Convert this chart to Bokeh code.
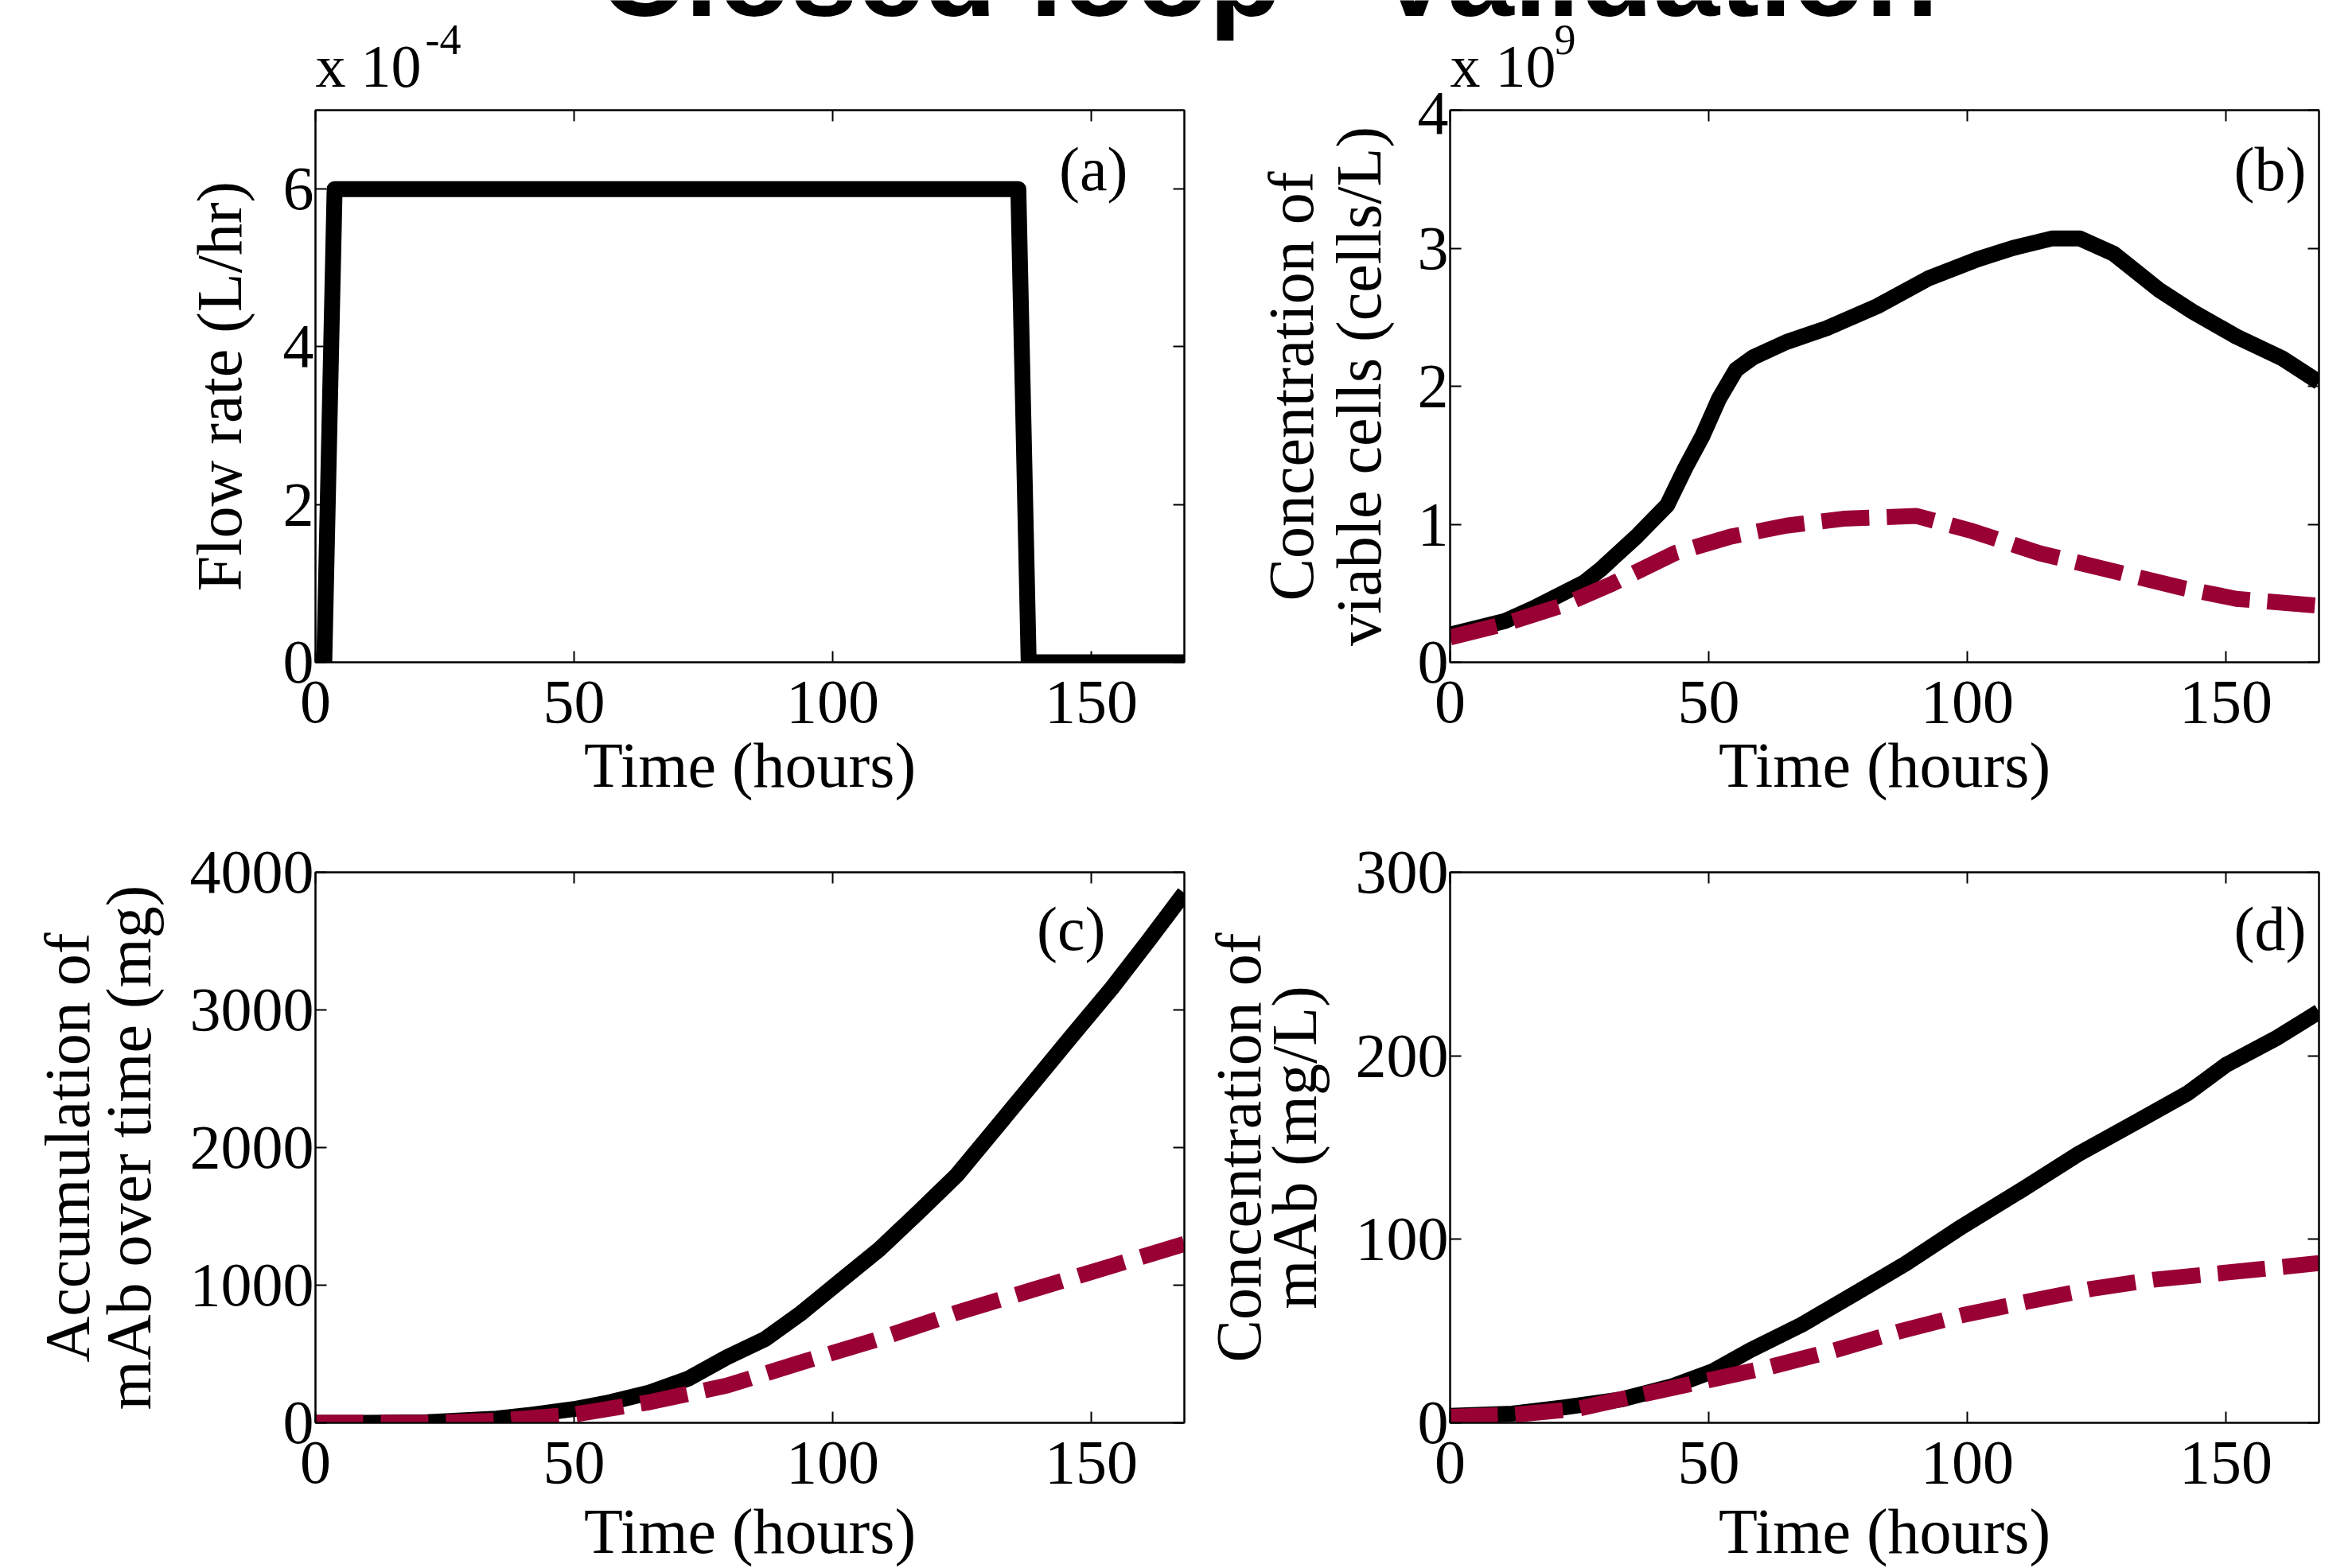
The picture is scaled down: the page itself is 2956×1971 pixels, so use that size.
from bokeh.plotting import figure
from bokeh.layouts import column, row
from bokeh.models import FixedTicker, LinearAxis, Label, Range1d
from bokeh.core.properties import value
from bokeh.embed import file_html
from bokeh.resources import INLINE

# ---------------- data ----------------
x_ticks = [0, 50, 100, 150]
t_max = 168

# (a) flow rate, x 1e-4 L/hr
flow_t = [0, 1.7, 3.7, 135.9, 137.9, 168]
flow_v = [0, 0, 6, 6, 0, 0]

# (b) viable cells, x 1e9 cells/L
cells_t_black = [0, 10.7, 16, 26, 29, 36, 42, 45.5, 48.8, 52, 55.3, 58.6, 65, 72.8, 82.6,
                 92.4, 102, 108.7, 116.3, 121.8, 128.3, 137, 143.6, 152, 161, 168]
cells_black = [0.20, 0.30, 0.39, 0.58, 0.67, 0.91, 1.14, 1.41, 1.64, 1.91, 2.12, 2.21, 2.32,
               2.42, 2.58, 2.78, 2.92, 3.00, 3.07, 3.07, 2.96, 2.70, 2.54, 2.36, 2.20, 2.03]
cells_t_red = [0, 10.7, 21.6, 31.4, 43.4, 54.2, 65, 76, 90.2, 101, 114, 130.5, 141.4, 152, 168]
cells_red = [0.18, 0.28, 0.41, 0.57, 0.79, 0.91, 0.99, 1.04, 1.06, 0.95, 0.79, 0.64, 0.54, 0.46, 0.41]

# (c) accumulated mAb, mg
acc_t_black = [0, 10, 21.5, 35, 42, 50, 57, 64.6, 72, 79.5, 87, 94, 101.8, 109, 116.6, 124,
               131.5, 139, 146, 154, 161, 168]
acc_black = [0, 0, 5, 30, 60, 100, 150, 220, 320, 475, 610, 800, 1040, 1260, 1530, 1800,
             2140, 2480, 2800, 3160, 3500, 3850]
acc_t_red = [0, 21.5, 35, 50, 64.6, 79.5, 94, 109, 124, 139, 154, 168]
acc_red = [0, 0, 15, 60, 150, 270, 440, 610, 800, 970, 1140, 1300]

# (d) mAb concentration, mg/L
conc_t_black = [0, 12, 22, 33, 43, 50.7, 58, 68, 78, 88, 99, 110, 121.5, 132.7, 142.6, 150, 160, 168]
conc_black = [3.8, 5, 8.4, 12.7, 20, 28, 39.5, 53.5, 70, 86.6, 107, 126, 146.5, 164, 179.6, 195, 210, 224]
conc_t_red = [0, 12, 24.6, 37, 49.6, 62, 74.3, 86.7, 99, 111.5, 124, 136, 148.8, 161, 168]
conc_red = [3.3, 4.3, 7.6, 15.3, 23, 30.6, 39.5, 49.7, 58.6, 66, 73, 78, 81.5, 85, 87]

title_text = "Closed loop \u201cValidation\u201d"
exp_base = ["x 10", "x 10"]
exp_power = ["-4", "9"]

# ---------------- styling ----------------
SERIF = "Liberation Serif"
TICK_FS = "78px"
LABEL_FS = "80px"
RED = "#990033"
LW = 20
FRAME_W = 1092
ROW_W = 2934
STRIP_H = 116


def style_axis(ax):
    ax.major_tick_in = 14
    ax.major_tick_out = 0
    ax.minor_tick_in = 0
    ax.minor_tick_out = 0
    ax.axis_line_color = "black"
    ax.axis_line_width = 2
    ax.major_tick_line_color = "black"
    ax.major_tick_line_width = 2
    ax.major_label_text_font = SERIF
    ax.major_label_text_font_size = TICK_FS
    ax.major_label_text_color = "black"
    ax.axis_label_text_font = SERIF
    ax.axis_label_text_font_size = LABEL_FS
    ax.axis_label_text_font_style = "normal"
    ax.axis_label_text_color = "black"


def hide_labels(ax):
    ax.major_label_text_font_size = "1px"
    ax.major_label_text_color = None
    ax.major_label_standoff = 0


def make_fig(ymax, yticks, ylabel_lines, frame_h, b_top, b_bottom, b_left,
             lab_standoff, tick_standoff_x, lab_standoff_x, outer_standoff=-6, b_right=20):
    p = figure(frame_width=FRAME_W, frame_height=frame_h,
               x_range=Range1d(0, t_max), y_range=Range1d(0, ymax),
               output_backend="svg", toolbar_location=None,
               min_border_top=b_top, min_border_bottom=b_bottom,
               min_border_left=b_left, min_border_right=b_right,
               x_axis_label="Time (hours)", y_axis_label=ylabel_lines[-1])
    p.add_layout(LinearAxis(), "right")
    p.add_layout(LinearAxis(), "above")
    p.xgrid.visible = False
    p.ygrid.visible = False
    p.outline_line_color = "black"
    p.outline_line_width = 2
    p.background_fill_color = "white"
    p.border_fill_color = "white"
    for ax in p.axis:
        style_axis(ax)
    for ax in list(p.below) + list(p.above):
        ax.ticker = FixedTicker(ticks=x_ticks)
    for ax in list(p.left) + list(p.right):
        ax.ticker = FixedTicker(ticks=yticks)
    for ax in list(p.right) + list(p.above):
        hide_labels(ax)
    bottom_ax = p.below[0]
    left_ax = p.left[0]
    bottom_ax.major_label_standoff = tick_standoff_x
    bottom_ax.axis_label_standoff = lab_standoff_x
    left_ax.major_label_standoff = 2
    left_ax.axis_label_standoff = lab_standoff
    if len(ylabel_lines) > 1:
        # first line of a two-line y label, on an outer axis with no ticks
        outer = LinearAxis(axis_label=ylabel_lines[0], ticker=FixedTicker(ticks=[]))
        style_axis(outer)
        hide_labels(outer)
        outer.axis_line_color = None
        outer.major_tick_line_color = None
        outer.minor_tick_line_color = None
        outer.axis_label_standoff = outer_standoff
        p.add_layout(outer, "left")
    return p


def ypx(p, px):
    """data y at px pixels above the frame top"""
    r = p.y_range
    return r.end + px * (r.end - r.start) / p.frame_height


def xpx(px):
    return px * t_max / FRAME_W


def panel_label(p, text, right_px, below_top_px):
    p.add_layout(Label(x=xpx(right_px), y=ypx(p, -below_top_px), text=text,
                       text_align="right", text_baseline="alphabetic",
                       text_font=SERIF, text_font_size="78px", text_color="black"))


# ---- top strip: title and the axis multipliers (pixel coordinates) ----
strip = figure(width=ROW_W, height=STRIP_H, x_range=Range1d(0, ROW_W), y_range=Range1d(0, STRIP_H),
               output_backend="svg", toolbar_location=None, x_axis_type=None, y_axis_type=None,
               min_border=0, min_border_left=0, min_border_right=0, min_border_top=0,
               min_border_bottom=0)
strip.xgrid.visible = False
strip.ygrid.visible = False
strip.outline_line_color = None
strip.text(x=[752], y=[STRIP_H - 27], text=[title_text], text_font=value("Liberation Sans"),
           text_font_style="bold", text_font_size="150px", text_color="black",
           text_align="left", text_baseline="alphabetic", y_offset=-60)
strip.text(x=[396, 1822], y=[1, 1], text=exp_base, text_font=value(SERIF),
           text_font_size="76px", text_color="black", text_align="left",
           text_baseline="alphabetic", y_offset=-33)
strip.text(x=[534, 1953], y=[STRIP_H - 70, STRIP_H - 70], text=exp_power, text_font=value(SERIF),
           text_font_size="54px", text_color="black", text_align="left",
           text_baseline="alphabetic", y_offset=-21)

TOP_B = 138 - STRIP_H

# (a)
pa = make_fig(7, [0, 2, 4, 6], ["Flow rate (L/hr)"], 694, TOP_B, 200, 396, 33, 24, 7)
pa.line(flow_t, flow_v, line_color="black", line_width=LW, line_join="round")
panel_label(pa, "(a)", 1021, 74)

# (b)
pb = make_fig(4, [0, 1, 2, 3, 4], ["Concentration of", "viable cells (cells/L)"], 694, TOP_B, 200,
              314, 27, 24, 7)
pb.line(cells_t_black, cells_black, line_color="black", line_width=LW, line_join="round")
pb.line(cells_t_red, cells_red, line_color=RED, line_width=LW, line_dash="60 22", line_cap="butt")
panel_label(pb, "(b)", 1076, 74)

# (c)
pc = make_fig(4000, [0, 1000, 2000, 3000, 4000], ["Accumulation of", "mAb over time (mg)"], 692, 64,
              170, 396, 30, 24, 14, outer_standoff=-14)
pc.line(acc_t_black, acc_black, line_color="black", line_width=LW, line_join="round")
pc.line(acc_t_red, acc_red, line_color=RED, line_width=LW, line_dash="60 22", line_cap="butt")
panel_label(pc, "(c)", 993, 71)

# (d)
pd_ = make_fig(300, [0, 100, 200, 300], ["Concentration of", "mAb (mg/L)"], 692, 64, 170, 314,
               30, 24, 14, outer_standoff=-21)
pd_.line(conc_t_black, conc_black, line_color="black", line_width=LW, line_join="round")
pd_.line(conc_t_red, conc_red, line_color=RED, line_width=LW, line_dash="60 22", line_cap="butt")
panel_label(pd_, "(d)", 1076, 71)

layout = column(strip, row(pa, pb), row(pc, pd_))
open("out.html", "w").write(file_html(layout, INLINE))
